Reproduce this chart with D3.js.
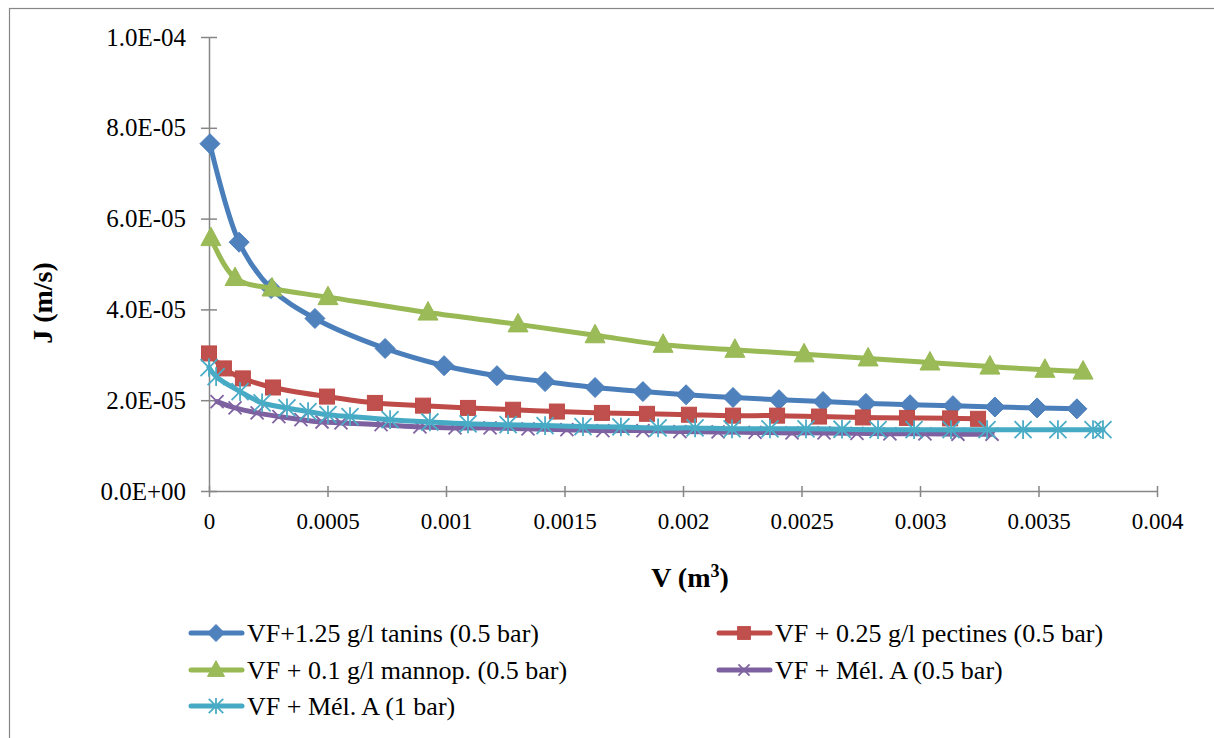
<!DOCTYPE html>
<html><head><meta charset="utf-8">
<script src="https://cdn.jsdelivr.net/npm/d3@7"></script>
<style>body{margin:0;background:#fff}svg{display:block}svg text{font-family:"Liberation Serif","Times New Roman",Tinos,"DejaVu Serif",serif !important;fill:#000}</style>
</head><body><svg id="c" width="1214" height="738" font-family="Liberation Serif, Times New Roman, DejaVu Serif, serif"></svg>
<script>
// ---- data ----
const seriesNames = ["VF+1.25 g/l tanins (0.5 bar)","VF + 0.25 g/l pectines (0.5 bar)","VF + 0.1 g/l mannop. (0.5 bar)","VF + Mél. A (0.5 bar)","VF + Mél. A (1 bar)"];
const tanninsV = [0.000004,0.000127,0.000262,0.000447,0.000743,0.000992,0.001215,0.001418,0.001629,0.001831,0.002013,0.002211,0.002405,0.002591,0.002772,0.002958,0.003139,0.003316,0.003494,0.003662];
const tanninsJ = [7.65e-5,5.48e-5,4.46e-5,3.80e-5,3.14e-5,2.76e-5,2.54e-5,2.41e-5,2.28e-5,2.19e-5,2.12e-5,2.06e-5,2.01e-5,1.97e-5,1.93e-5,1.90e-5,1.88e-5,1.85e-5,1.83e-5,1.81e-5];
const pectinesV = [0.0,0.000063,0.000143,0.00027,0.000498,0.0007,0.000903,0.001093,0.001283,0.001468,0.001658,0.001848,0.002025,0.002211,0.002397,0.002574,0.002759,0.002945,0.003127,0.003245];
const pectinesJ = [3.03e-5,2.70e-5,2.48e-5,2.28e-5,2.08e-5,1.94e-5,1.88e-5,1.83e-5,1.79e-5,1.75e-5,1.72e-5,1.70e-5,1.68e-5,1.66e-5,1.66e-5,1.64e-5,1.62e-5,1.61e-5,1.60e-5,1.59e-5];
const mannopV = [0.000008,0.00011,0.000266,0.000502,0.000924,0.001304,0.001629,0.001916,0.002219,0.002511,0.002781,0.003042,0.003295,0.003527,0.003688];
const mannopJ = [5.57e-5,4.69e-5,4.46e-5,4.27e-5,3.93e-5,3.67e-5,3.43e-5,3.22e-5,3.11e-5,3.01e-5,2.92e-5,2.83e-5,2.74e-5,2.67e-5,2.63e-5];
const melA05V = [0.000034,0.00011,0.000203,0.000295,0.000388,0.000477,0.000557,0.000726,0.00089,0.001038,0.001186,0.001346,0.00151,0.001662,0.001831,0.001987,0.002148,0.002304,0.00246,0.002595,0.002734,0.002873,0.003021,0.00316,0.003304];
const melA05J = [1.97e-5,1.83e-5,1.72e-5,1.64e-5,1.57e-5,1.52e-5,1.50e-5,1.46e-5,1.41e-5,1.39e-5,1.39e-5,1.37e-5,1.35e-5,1.33e-5,1.33e-5,1.31e-5,1.30e-5,1.29e-5,1.28e-5,1.28e-5,1.27e-5,1.26e-5,1.26e-5,1.25e-5,1.25e-5];
const melA1V = [0.0,0.00003,0.000131,0.000224,0.000329,0.000418,0.000502,0.000595,0.000764,0.000932,0.001093,0.001262,0.001418,0.001578,0.001738,0.001895,0.002051,0.002207,0.002367,0.002519,0.002671,0.002823,0.002975,0.003131,0.003283,0.003435,0.003582,0.00373,0.003772];
const melA1J = [2.72e-5,2.52e-5,2.19e-5,1.94e-5,1.83e-5,1.75e-5,1.68e-5,1.64e-5,1.57e-5,1.52e-5,1.48e-5,1.46e-5,1.44e-5,1.42e-5,1.41e-5,1.39e-5,1.39e-5,1.37e-5,1.37e-5,1.37e-5,1.36e-5,1.35e-5,1.35e-5,1.35e-5,1.35e-5,1.35e-5,1.35e-5,1.35e-5,1.35e-5];
const xTicks = [0,0.0005,0.001,0.0015,0.002,0.0025,0.003,0.0035,0.004];
const xTickLabels = ["0","0.0005","0.001","0.0015","0.002","0.0025","0.003","0.0035","0.004"];
const yTicks = [0,2e-5,4e-5,6e-5,8e-5,1e-4];
const yTickLabels = ["0.0E+00","2.0E-05","4.0E-05","6.0E-05","8.0E-05","1.0E-04"];
const lineColors = ["#4A7EBB","#BE4B48","#98B954","#7D60A0","#46AAC5"];
const markerColors = ["#4F81BD","#C0504D","#9BBB59","#8064A2","#4BACC6"];
const markerTypes = ["diamond","square","triangle","x","star"];

const series = [
  {name:seriesNames[0], v:tanninsV, j:tanninsJ},
  {name:seriesNames[1], v:pectinesV, j:pectinesJ},
  {name:seriesNames[2], v:mannopV, j:mannopJ},
  {name:seriesNames[3], v:melA05V, j:melA05J},
  {name:seriesNames[4], v:melA1V, j:melA1J}
];

const FONT = "'Liberation Serif','Times New Roman',Tinos,'DejaVu Serif',serif";
const svg = d3.select("#c");
svg.append("rect").attr("x",9.5).attr("y",8.5).attr("width",1300).attr("height",800)
  .attr("fill","none").attr("stroke","#868686").attr("stroke-width",1.2);

const x = d3.scaleLinear().domain([0,0.004]).range([209,1157]);
const y = d3.scaleLinear().domain([0,1e-4]).range([491,37]);

const gx = svg.append("g").attr("transform","translate(0,491)")
  .call(d3.axisBottom(x).tickValues(xTicks).tickFormat((d,i)=>xTickLabels[i]).tickSize(0).tickPadding(22));
gx.attr("font-family",FONT).attr("font-size",23);
gx.select(".domain").attr("stroke","#868686").attr("stroke-width",1.5);
gx.selectAll(".tick").append("line").attr("y1",-5).attr("y2",6).attr("stroke","#868686").attr("stroke-width",1.5);
gx.selectAll("text").attr("fill","#000");

const gy = svg.append("g").attr("transform","translate(209,0)")
  .call(d3.axisLeft(y).tickValues(yTicks).tickFormat((d,i)=>yTickLabels[i]).tickSize(0).tickPadding(23));
gy.attr("font-family",FONT).attr("font-size",25);
gy.select(".domain").attr("stroke","#868686").attr("stroke-width",1.5);
gy.selectAll(".tick").append("line").attr("x1",-8).attr("x2",8).attr("stroke","#868686").attr("stroke-width",1.5);
gy.selectAll("text").attr("fill","#000");

svg.append("text").attr("transform","translate(52,303) rotate(-90)").attr("text-anchor","middle")
  .style("font-size","28px").style("font-weight","bold").text("J (m/s)");
const vt = svg.append("text").attr("x",690).attr("y",587).attr("text-anchor","middle")
  .style("font-size","28px").style("font-weight","bold");
vt.append("tspan").text("V (m");
vt.append("tspan").text("3").attr("dy",-10).style("font-size","18px");
vt.append("tspan").text(")").attr("dy",10);

function marker(g, type, cx, cy, i, scale){
  scale = scale||1;
  const f = markerColors[i], s = lineColors[i];
  if(type==="diamond"){
    const r=10*scale;
    g.append("path").attr("d",`M${cx},${cy-r}L${cx+r},${cy}L${cx},${cy+r}L${cx-r},${cy}Z`).attr("fill",f).attr("stroke",s).attr("stroke-width",1);
  } else if(type==="square"){
    const r=7.5*scale;
    g.append("rect").attr("x",cx-r).attr("y",cy-r).attr("width",2*r).attr("height",2*r).attr("fill",f).attr("stroke",s).attr("stroke-width",1);
  } else if(type==="triangle"){
    const r=10*scale;
    g.append("path").attr("d",`M${cx},${cy-r*1.1}L${cx+r},${cy+r*0.75}L${cx-r},${cy+r*0.75}Z`).attr("fill",f).attr("stroke",s).attr("stroke-width",1);
  } else if(type==="x"){
    const r=6.5*scale;
    g.append("path").attr("d",`M${cx-r},${cy-r}L${cx+r},${cy+r}M${cx-r},${cy+r}L${cx+r},${cy-r}`).attr("stroke",f).attr("stroke-width",1.8).attr("fill","none");
  } else if(type==="star"){
    const r=8.5*scale;
    g.append("path").attr("d",`M${cx-r},${cy-r}L${cx+r},${cy+r}M${cx-r},${cy+r}L${cx+r},${cy-r}M${cx},${cy-r*1.1}L${cx},${cy+r*1.1}`).attr("stroke",f).attr("stroke-width",1.8).attr("fill","none");
  }
}

const line = d3.line().x(d=>x(d[0])).y(d=>y(d[1])).curve(d3.curveCatmullRom.alpha(0.5));
series.forEach((s,i)=>{
  const pts = s.v.map((v,k)=>[v,s.j[k]]);
  const g = svg.append("g");
  g.append("path").datum(pts).attr("d",line).attr("fill","none").attr("stroke",lineColors[i])
    .attr("stroke-width",5).attr("stroke-linejoin","round").attr("stroke-linecap","round");
  pts.forEach(p=>marker(g, markerTypes[i], x(p[0]), y(p[1]), i));
});

const legendPos = [[188,633],[716,633],[188,670],[716,670],[188,706]];
series.forEach((s,i)=>{
  const [lx,ly] = legendPos[i];
  const g = svg.append("g");
  g.append("line").attr("x1",lx+3).attr("x2",lx+54).attr("y1",ly).attr("y2",ly)
    .attr("stroke",lineColors[i]).attr("stroke-width",5).attr("stroke-linecap","round");
  marker(g, markerTypes[i], lx+28, ly, i, 0.85);
  g.append("text").attr("x",lx+59).attr("y",ly+9).style("font-size","26px").text(s.name);
});
</script></body></html>
